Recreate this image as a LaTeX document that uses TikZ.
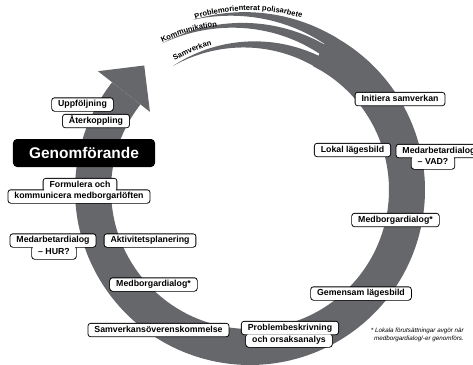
\documentclass[tikz,border=0pt]{standalone}
\usepackage{fontspec}
\setmainfont{Liberation Sans}
\usetikzlibrary{decorations.text}
\pgfdeclarelayer{bandlayer}
\pgfdeclarelayer{outl}
\pgfsetlayers{bandlayer,outl,main}
\definecolor{bandgray}{RGB}{102,103,107}
\newcommand\strandfont{\fontsize{7.6}{8}\bfseries\selectfont}
\begin{document}
\begin{tikzpicture}[x=1bp,y=1bp,
  lbl/.style={fill=white, rounded corners=2.5bp, inner xsep=6bp, inner ysep=0bp,
    text height=6.6bp, text depth=1.9bp, minimum height=12.5bp,
    font=\fontsize{8.8}{10}\bfseries\selectfont, outer sep=0pt},
  outline/.style={draw=black, line width=1.8bp, rounded corners=2.5bp},
  genom/.style={fill=black, text=white, rounded corners=4bp, minimum width=142bp,
    minimum height=28bp, inner sep=0pt, font=\fontsize{15.5}{17}\bfseries\selectfont},
  foot/.style={font=\fontsize{6.3}{7.6}\itshape\selectfont, inner sep=0pt, align=right},
  strand/.style={fill=bandgray}
]
\useasboundingbox (0,0) rectangle (473,-364);

\begin{pgfonlayer}{bandlayer}
% main band
\fill[strand] plot[domain=-63:218,samples=160] ({250+175*cos(\x)},{-190-175*sin(\x)})
  -- plot[domain=218:-63,samples=160] ({250+139*cos(\x)},{-190-139*sin(\x)}) -- cycle;
% arrow head
\fill[strand] ({250+193*cos(218)},{-190-193*sin(218)})
  -- ({250+160*cos(218)-33*sin(218)},{-190-160*sin(218)-33*cos(218)})
  -- ({250+127*cos(218)},{-190-127*sin(218)}) -- cycle;
% top strand
\fill[strand] plot[domain=-108.5:-60,samples=60]
   ({250+(175+4.5*(-60-(\x))/48.5)*cos(\x)},{-190-(175+4.5*(-60-(\x))/48.5)*sin(\x)})
  -- plot[domain=-60:-108.5,samples=60]
   ({250+(175+4.5*(-60-(\x))/48.5-12*((\x)+108.5)/48.5)*cos(\x)},
    {-190-(175+4.5*(-60-(\x))/48.5-12*((\x)+108.5)/48.5)*sin(\x)}) -- cycle;
% middle strand
\fill[strand] plot[domain=-121:-60,samples=60]
   ({250+(163+8*(-60-(\x))/61)*cos(\x)},{-190-(163+8*(-60-(\x))/61)*sin(\x)})
  -- plot[domain=-60:-121,samples=60]
   ({250+(163+8*(-60-(\x))/61-11*((\x)+121)/61)*cos(\x)},
    {-190-(163+8*(-60-(\x))/61-11*((\x)+121)/61)*sin(\x)}) -- cycle;
% bottom strand
\fill[strand] plot[domain=-122:-60,samples=60]
   ({250+(146+5*((\x)+122)/62)*cos(\x)},{-190-(146+5*((\x)+122)/62)*sin(\x)})
  -- plot[domain=-60:-122,samples=60]
   ({250+(146+5*((\x)+122)/62-12*((\x)+122)/62)*cos(\x)},
    {-190-(146+5*((\x)+122)/62-12*((\x)+122)/62)*sin(\x)}) -- cycle;
\end{pgfonlayer}

% strand labels
\path[decorate, decoration={text along path, text align=center,
  text={|\strandfont|Problemorienterat polisarbete}}]
  plot[domain=-110:-71,samples=50] ({250+179.5*cos(\x)},{-190-179.5*sin(\x)});
\path[decorate, decoration={text along path, text align=center,
  text={|\strandfont|Kommunikation}}]
  plot[domain=-123:-99,samples=40] ({250+(169-((\x)+111)*0.25)*cos(\x)},{-190-(169-((\x)+111)*0.25)*sin(\x)});
\path[decorate, decoration={text along path, text align=center,
  text={|\strandfont|Samverkan}}]
  plot[domain=-124:-101,samples=40] ({250+149.5*cos(\x)},{-190-149.5*sin(\x)});

% labels
\node[lbl] (init) at (400,-99) {Initiera samverkan};
\node[lbl] (lokal) at (352.5,-150) {Lokal lägesbild};
\node[lbl] (vad1) at (439,-151) {Medarbetardialog};
\node[lbl] (vad2) at (433,-162.5) {– VAD?};
\node[lbl] (medbr) at (395.5,-220) {Medborgardialog*};
\node[lbl] (gem) at (361,-293.5) {Gemensam lägesbild};
\node[lbl] (prob1) at (290,-328) {Problembeskrivning};
\node[lbl] (prob2) at (289,-340.5) {och orsaksanalys};
\node[lbl] (samv) at (158.5,-330) {Samverkansöverenskommelse};
\node[lbl] (medbl) at (153.5,-284.5) {Medborgardialog*};
\node[lbl] (akt) at (150,-240.5) {Aktivitetsplanering};
\node[lbl] (hur1) at (53,-240.5) {Medarbetardialog};
\node[lbl] (hur2) at (54,-252.5) {– HUR?};
\node[lbl] (form1) at (80,-185) {Formulera och};
\node[lbl] (form2) at (79,-196.5) {kommunicera medborgarlöften};
\node[genom] (genom) at (84,-153) {Genomförande};
\node[lbl] (upp) at (82.5,-104.5) {Uppföljning};
\node[lbl] (ater) at (96,-121) {Återkoppling};

\node[foot, anchor=north east] (fn) at (464,-328) {* Lokala förutsättningar avgör när\\medborgardialog/-er genomförs.};

\begin{pgfonlayer}{outl}
\foreach \n in {init,lokal,vad1,vad2,medbr,gem,prob1,prob2,samv,medbl,akt,hur1,hur2,form1,form2,upp,ater}
  \draw[outline] (\n.south west) rectangle (\n.north east);
\end{pgfonlayer}
\end{tikzpicture}
\end{document}
